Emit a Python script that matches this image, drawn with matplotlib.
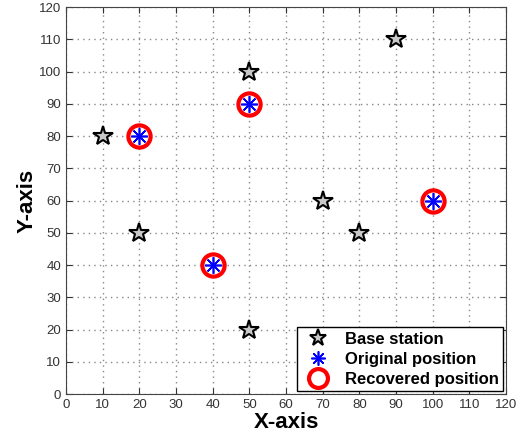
import matplotlib
matplotlib.use('Agg')
from matplotlib import pyplot as plt

plt.rcParams['font.family'] = ['Liberation Sans', 'DejaVu Sans']

# base stations
bs_x = [10, 20, 50, 50, 70, 80, 90]
bs_y = [80, 50, 100, 20, 60, 50, 110]

# original and recovered node positions
orig_x = [20, 50, 40, 100]
orig_y = [80, 90, 40, 60]
rec_x = [20, 50, 40, 100]
rec_y = [80, 90, 40, 60]

ticks = list(range(0, 121, 10))

fig = plt.figure(figsize=(5.28, 4.36), dpi=100)
ax = fig.add_axes([66/528, 42/436, 440/528, 387/436])

ax.plot(bs_x, bs_y, linestyle='none', marker='*', markersize=15,
        markerfacecolor='#c8c8c8', markeredgecolor='black', markeredgewidth=1.5,
        label='Base station')
ax.plot(orig_x, orig_y, linestyle='none', marker=(8, 2, 0), markersize=12,
        color='blue', markeredgewidth=1.2, label='Original position', zorder=4)
ax.plot(rec_x, rec_y, linestyle='none', marker='o', markersize=16,
        markerfacecolor='none', markeredgecolor='red', markeredgewidth=3,
        label='Recovered position', zorder=3)

ax.set_xlim(0, 120)
ax.set_ylim(0, 120)
ax.set_xticks(ticks)
ax.set_yticks(ticks)
ax.tick_params(direction='in', labelsize=9.5, colors='#333333', length=4, top=True, right=True,
               labeltop=False, labelright=False)
ax.grid(True, linestyle=(0, (1, 3)), color='#888888', linewidth=1)
for s in ax.spines.values():
    s.set_color('#444444')

ax.set_xlabel('X-axis', fontsize=16, fontweight='bold', labelpad=1)
ax.set_ylabel('Y-axis', fontsize=16, fontweight='bold', labelpad=1)

leg = ax.legend(loc='lower right', fancybox=False, framealpha=1, edgecolor='black',
                prop={'weight': 'bold', 'size': 12}, borderaxespad=0.2,
                handletextpad=0.6, labelspacing=0.3, borderpad=0.25,
                markerscale=0.85, handlelength=2.0)
leg.get_frame().set_linewidth(1)

fig.savefig('out.png', dpi=100)
